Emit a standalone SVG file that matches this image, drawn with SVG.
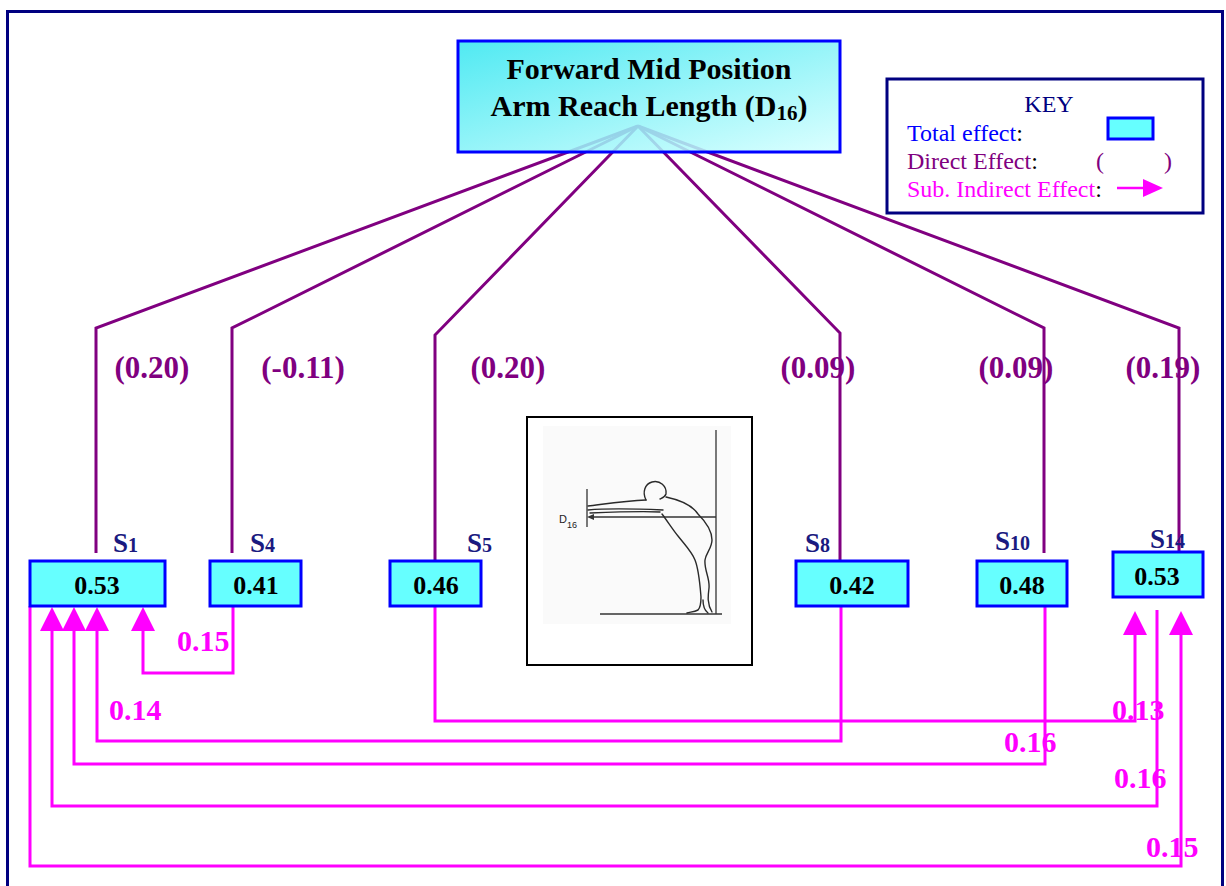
<svg xmlns="http://www.w3.org/2000/svg" width="1226" height="886" viewBox="0 0 1226 886">
  <style>
    .frame { fill: none; stroke: #000080; stroke-width: 3; }
    .direct { fill: none; stroke: #800080; stroke-width: 3; stroke-linejoin: miter; }
    .indirect { fill: none; stroke: #ff00ff; stroke-width: 3; stroke-linejoin: miter; }
    .nodebox { fill: #66ffff; stroke: #0000ff; stroke-width: 3; }
    .val { font-family: "Liberation Serif", serif; font-weight: bold; font-size: 26px; fill: #000; text-anchor: middle; }
    .slab { font-family: "Liberation Serif", serif; font-weight: bold; font-size: 27px; fill: #1a1a80; }
    .slab tspan.sub { font-size: 20px; }
    .dlab { font-family: "Liberation Serif", serif; font-weight: bold; font-size: 31px; fill: #800080; text-anchor: middle; }
    .ilab { font-family: "Liberation Serif", serif; font-weight: bold; font-size: 30px; fill: #ff00ff; }
    .title { font-family: "Liberation Serif", serif; font-weight: bold; font-size: 30px; fill: #000; text-anchor: middle; }
    .key { font-family: "Liberation Serif", serif; font-size: 24px; }
    .fig { fill: none; stroke: #2a2a2a; stroke-width: 1.4; stroke-linejoin: round; stroke-linecap: round; }
  </style>
  <defs>
    <linearGradient id="titleFill" x1="0" y1="0" x2="1" y2="1">
      <stop offset="0" stop-color="#33e6f0"/>
      <stop offset="1" stop-color="#d6ffff"/>
    </linearGradient>
    <marker id="head" markerUnits="userSpaceOnUse" markerWidth="24" markerHeight="24" refX="0" refY="12" orient="auto">
      <path d="M0,0 L24,12 L0,24 z" fill="#ff00ff"/>
    </marker>
  </defs>

  <!-- outer frame -->
  <rect class="frame" x="7.5" y="11.5" width="1215" height="900"/>

  <!-- connectors: direct effects (purple) and indirect effects (magenta) -->
  <g id="connectors">
    <polyline class="direct" points="638,126 96,328 96,553"/>
    <polyline class="direct" points="638,126 232,328 232,553"/>
    <polyline class="direct" points="638,126 435,335 435,561"/>
    <polyline class="direct" points="638,126 840,333 840,561"/>
    <polyline class="direct" points="638,126 1044,328 1044,553"/>
    <polyline class="direct" points="638,126 1179,328 1179,552"/>

    <path class="indirect" d="M233,606 V673 H143 V631" marker-end="url(#head)"/>
    <path class="indirect" d="M435,607 V721 H1135 V635" marker-end="url(#head)"/>
    <path class="indirect" d="M841,606 V741 H97 V631" marker-end="url(#head)"/>
    <path class="indirect" d="M1045,606 V764 H74 V631" marker-end="url(#head)"/>
    <path class="indirect" d="M1157,610 V806 H52 V631" marker-end="url(#head)"/>
    <path class="indirect" d="M30,606 V866 H1181 V635" marker-end="url(#head)"/>
  </g>

  <!-- direct effect labels -->
  <g id="direct-labels">
    <text class="dlab" x="152" y="378">(0.20)</text>
    <text class="dlab" x="303" y="378">(-0.11)</text>
    <text class="dlab" x="508" y="378">(0.20)</text>
    <text class="dlab" x="818" y="378">(0.09)</text>
    <text class="dlab" x="1016" y="378">(0.09)</text>
    <text class="dlab" x="1163" y="378">(0.19)</text>
  </g>

  <!-- indirect effect labels -->
  <g id="indirect-labels">
    <text class="ilab" x="177" y="651">0.15</text>
    <text class="ilab" x="109" y="720">0.14</text>
    <text class="ilab" x="1112" y="720">0.13</text>
    <text class="ilab" x="1004" y="752">0.16</text>
    <text class="ilab" x="1114" y="788">0.16</text>
    <text class="ilab" x="1146" y="857">0.15</text>
  </g>

  <!-- outcome node -->
  <g id="node-d16">
    <rect x="458" y="41" width="382" height="111" fill="url(#titleFill)" fill-opacity="0.86" stroke="#0000ff" stroke-width="3"/>
    <text class="title" x="649" y="79">Forward Mid Position</text>
    <text class="title" x="649" y="116">Arm Reach Length (D<tspan font-size="21px" dy="4">16</tspan><tspan dy="-4">)</tspan></text>
  </g>

  <!-- key -->
  <g id="key">
    <rect x="887" y="79" width="316" height="134" fill="#fff" stroke="#000080" stroke-width="3"/>
    <text class="key" x="1049" y="112" fill="#000080" text-anchor="middle">KEY</text>
    <text class="key" x="907" y="141" fill="#0000ff">Total effect<tspan fill="#000">:</tspan></text>
    <rect x="1108" y="118" width="45" height="21" class="nodebox" stroke-width="2"/>
    <text class="key" x="907" y="169" fill="#800080">Direct Effect<tspan fill="#000">:</tspan></text>
    <text class="key" x="1096" y="169" fill="#800080">(</text>
    <text class="key" x="1164" y="169" fill="#800080">)</text>
    <text class="key" x="907" y="197" fill="#ff00ff">Sub. Indirect Effect<tspan fill="#000">:</tspan></text>
    <line x1="1117" y1="188" x2="1144" y2="188" stroke="#ff00ff" stroke-width="2.5"/>
    <path d="M1143,179 L1163,188 L1143,197 z" fill="#ff00ff"/>
  </g>

  <!-- predictor nodes -->
  <g id="node-s1">
    <rect class="nodebox" x="30" y="561" width="135" height="45"/>
    <text class="val" x="97" y="594">0.53</text>
    <text class="slab" x="113" y="552">S<tspan class="sub">1</tspan></text>
  </g>
  <g id="node-s4">
    <rect class="nodebox" x="210" y="561" width="91" height="45"/>
    <text class="val" x="256" y="594">0.41</text>
    <text class="slab" x="250" y="552">S<tspan class="sub">4</tspan></text>
  </g>
  <g id="node-s5">
    <rect class="nodebox" x="390" y="561" width="91" height="45"/>
    <text class="val" x="436" y="594">0.46</text>
    <text class="slab" x="467" y="552">S<tspan class="sub">5</tspan></text>
  </g>
  <g id="node-s8">
    <rect class="nodebox" x="796" y="561" width="112" height="45"/>
    <text class="val" x="852" y="594">0.42</text>
    <text class="slab" x="805" y="552">S<tspan class="sub">8</tspan></text>
  </g>
  <g id="node-s10">
    <rect class="nodebox" x="977" y="561" width="90" height="45"/>
    <text class="val" x="1022" y="594">0.48</text>
    <text class="slab" x="995" y="550">S<tspan class="sub">10</tspan></text>
  </g>
  <g id="node-s14">
    <rect class="nodebox" x="1113" y="552" width="90" height="45"/>
    <text class="val" x="1157" y="585">0.53</text>
    <text class="slab" x="1150" y="548">S<tspan class="sub">14</tspan></text>
  </g>

  <!-- measurement illustration -->
  <g id="illustration">
    <rect x="527" y="417" width="225" height="248" fill="#fff" stroke="#000" stroke-width="2"/>
    <rect x="543" y="426" width="188" height="198" fill="#fafafa"/>
    <line x1="716" y1="430" x2="716" y2="614" stroke="#333" stroke-width="1.3"/>
    <line x1="600" y1="614" x2="722" y2="614" stroke="#333" stroke-width="1.3"/>
    <line x1="587" y1="489" x2="587" y2="527" stroke="#333" stroke-width="1.3"/>
    <line x1="592" y1="517" x2="716" y2="517" stroke="#333" stroke-width="1.3"/>
    <path d="M587,517 L594,514 L594,520 z" fill="#333"/>
    <text x="559" y="523" font-family="Liberation Sans, sans-serif" font-size="11" fill="#222">D<tspan font-size="9" dy="5">16</tspan></text>
    <!-- figure -->
    <path class="fig" d="M646,500 C642,492 645,484 652,482 C660,480 667,486 666,494 C665,497 662,498 660,499"/>
    <path class="fig" d="M588,506 C605,504 625,501 646,500"/>
    <path class="fig" d="M588,510 C610,508 640,509 663,510"/>
    <path class="fig" d="M590,513 C615,512 640,511 660,512"/>
    <path class="fig" d="M666,497 C680,500 692,505 698,514 C706,522 712,530 712,540 C712,548 706,553 705,560 C704,570 710,578 709,588 C708,596 707,604 712,612"/>
    <path class="fig" d="M662,514 C668,522 673,530 678,536 C685,545 692,552 695,560 C699,570 700,585 701,597 C701,604 700,608 698,610 C694,612 690,612 687,613"/>
    <path class="fig" d="M703,600 C703,606 704,610 708,613"/>
  </g>
</svg>
